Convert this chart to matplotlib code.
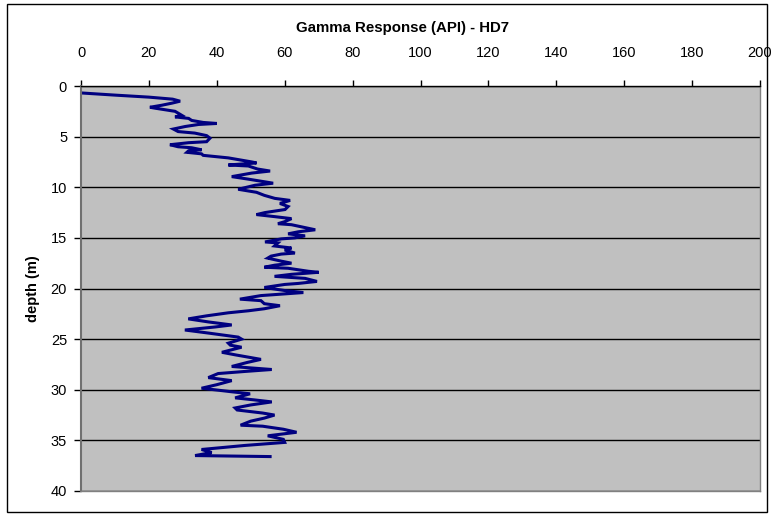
import matplotlib
matplotlib.use("Agg")
import matplotlib.pyplot as plt
from matplotlib.patches import Rectangle
from matplotlib.ticker import MultipleLocator

plt.rcParams['font.family'] = ['Liberation Sans', 'DejaVu Sans']

# Gamma log for borehole HD7: depth (m) and gamma response (API)
depth_m = [
    0.7, 0.9, 1.1, 1.3, 1.5, 1.7, 1.9, 2.1, 2.2, 2.5, 2.9, 3.05, 3.2, 3.4, 3.6, 3.7,
    3.8, 4.0, 4.25, 4.5, 4.65, 4.9, 5.15, 5.5, 5.6, 5.8, 6.0, 6.1, 6.3, 6.4, 6.55, 6.7,
    6.85, 7.1, 7.5, 7.6, 7.8, 7.9, 8.2, 8.4, 8.6, 8.95, 9.2, 9.4, 9.6, 9.8, 10.2, 10.5,
    10.8, 11.1, 11.3, 11.6, 11.9, 12.2, 12.5, 12.7, 12.9, 13.1, 13.4, 13.6, 13.7, 14.05,
    14.2, 14.4, 14.6, 14.8, 15.0, 15.1, 15.4, 15.5, 15.8, 16.0, 16.2, 16.5, 16.6, 16.8,
    17.0, 17.3, 17.5, 17.7, 17.9, 18.0, 18.3, 18.4, 18.6, 18.8, 19.0, 19.3, 19.5, 19.6,
    19.9, 20.2, 20.4, 20.7, 21.05, 21.2, 21.5, 21.7, 22.0, 22.2, 22.4, 22.7, 23.0, 23.3,
    23.6, 23.8, 24.1, 24.4, 24.8, 25.0, 25.4, 25.6, 25.8, 26.0, 26.3, 26.55, 27.0, 27.3,
    27.7, 28.0, 28.2, 28.4, 28.8, 29.1, 29.5, 29.85, 30.2, 30.4, 30.8, 31.0, 31.2, 31.5,
    31.8, 32.0, 32.3, 32.5, 32.8, 33.1, 33.5, 33.6, 33.9, 34.2, 34.55, 34.9, 35.2, 35.5,
    35.9, 36.2, 36.5, 36.55, 36.6,
]
gamma_api = [
    0.7, 10, 20.0, 27, 29.2, 26.7, 23.8, 20.3, 22, 27.7, 29.7, 27.7, 31.7, 32.6, 36, 40,
    34.6, 30.7, 27.2, 28.6, 33.5, 37, 38, 37, 31.7, 26.2, 28.6, 32.6, 35.5, 31.7, 31.2, 35.5,
    36, 43.4, 50.3, 51.7, 43.4, 49.3, 52, 55.7, 50.3, 44.4, 49.3, 53, 56.6, 51.3, 46.3, 51.7,
    54, 57.1, 61.6, 58.6, 61, 60.1, 54.2, 51.7, 57, 62, 60, 58, 62, 67,
    69, 64, 61, 66, 63, 59, 54.2, 58, 57, 62, 60, 63, 59, 56,
    55, 59, 62, 57, 54, 61, 67, 70, 62, 57, 66, 69.5, 64, 60,
    54, 60, 65.5, 53, 46.8, 53, 54, 58.6, 54, 49.3, 43.4, 37, 31.6, 37.5,
    44.4, 39.5, 30.6, 37.5, 46.3, 47.3, 43.4, 44, 47.3, 45, 41.5, 45.4, 53, 49,
    44.4, 56.2, 48, 40.4, 37.5, 44.4, 40, 35.5, 44.4, 49.8, 45.4, 51, 56.2, 50,
    45.4, 46, 53.5, 57, 54, 50, 47, 53.5, 59.6, 63.5, 55, 59.6, 60, 48.3,
    35.5, 38.5, 33.6, 45.4, 55.7,
]

W, H = 773, 519
fig = plt.figure(figsize=(W / 100, H / 100), dpi=100)
fig.patch.set_facecolor('white')

# chart-area frame
fig.patches.append(Rectangle((7 / W, 1 - 512 / H), 760 / W, 508 / H,
                             transform=fig.transFigure, fill=False,
                             edgecolor='black', linewidth=1.0))

ax = fig.add_axes([81 / W, 1 - 491 / H, (760 - 81) / W, (491 - 86) / H])
ax.set_facecolor('#C0C0C0')

ax.plot(gamma_api, depth_m, color='#000080', linewidth=2.2, solid_joinstyle='miter')

ax.set_xlim(0, 200)
ax.set_ylim(40, 0)
ax.xaxis.set_major_locator(MultipleLocator(20))
ax.yaxis.set_major_locator(MultipleLocator(5))
ax.xaxis.tick_top()

ax.grid(axis='y', color='black', linewidth=1.0)
ax.set_axisbelow(True)

for side in ('right', 'bottom'):
    ax.spines[side].set_color('#808080')
    ax.spines[side].set_linewidth(1.0)
ax.spines['left'].set_color('#707070')
ax.spines['left'].set_linewidth(1.5)
ax.spines['top'].set_color('black')
ax.spines['top'].set_linewidth(1.0)

ax.tick_params(axis='x', direction='out', length=4.5, width=1.0, pad=14,
               labelsize=10.5, colors='black')
ax.tick_params(axis='y', direction='out', length=5, width=1.0, pad=5,
               labelsize=10.5, colors='black')

ax.set_ylabel('depth (m)', fontsize=10.5, fontweight='bold', labelpad=8)
fig.text(402 / W, 1 - 28 / H, 'Gamma Response (API) - HD7', ha='center', va='center',
         fontsize=10.8, fontweight='bold')

fig.savefig('out.png', dpi=100)
